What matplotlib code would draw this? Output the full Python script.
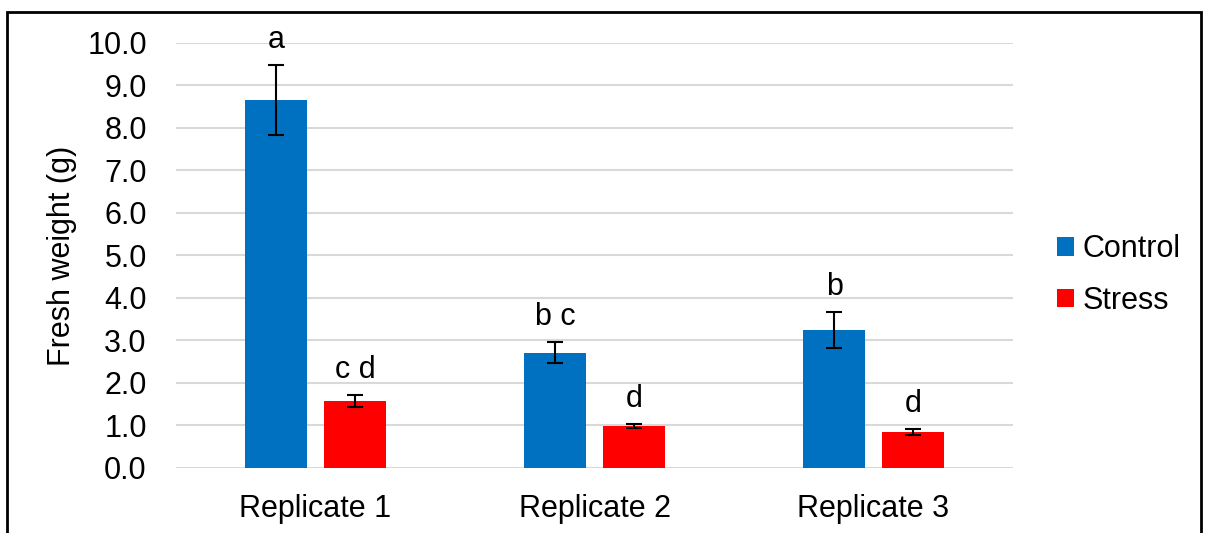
import numpy as np
import matplotlib
matplotlib.use("Agg")
import matplotlib.pyplot as plt
from matplotlib.patches import Rectangle

plt.rcParams['font.family'] = ['Liberation Sans', 'DejaVu Sans']

# data
categories = ["Replicate 1", "Replicate 2", "Replicate 3"]
control = [8.66, 2.71, 3.25]
control_err = [0.82, 0.25, 0.43]
stress = [1.58, 0.99, 0.85]
stress_err = [0.14, 0.05, 0.07]
control_letters = ["a", "b c", "b"]
stress_letters = ["c d", "d", "d"]
yticks = np.arange(0, 10.01, 1.0)

FS = 22

fig = plt.figure(figsize=(12.08, 5.33), dpi=100)
ax = fig.add_axes([0.1457, 0.122, 0.6929, 0.7974])

x = np.arange(len(categories))
w = 0.222
off = 0.141
blue = "#0070c0"
red = "#ff0000"

ax.bar(x - off, control, w, color=blue, label="Control", zorder=2)
ax.bar(x + off, stress, w, color=red, label="Stress", zorder=2)
ax.errorbar(x - off, control, yerr=control_err, fmt="none", ecolor="black",
            elinewidth=1.5, capsize=6, capthick=1.5, zorder=3)
ax.errorbar(x + off, stress, yerr=stress_err, fmt="none", ecolor="black",
            elinewidth=1.5, capsize=6, capthick=1.5, zorder=3)

# significance letters
for xi, v, e, t in zip(x - off, control, control_err, control_letters):
    ax.annotate(t, (xi, v + e), xytext=(0, 18), textcoords="offset points",
                ha="center", va="center", fontsize=FS)
for xi, v, e, t in zip(x + off, stress, stress_err, stress_letters):
    ax.annotate(t, (xi, v + e), xytext=(0, 18), textcoords="offset points",
                ha="center", va="center", fontsize=FS)

ax.set_xlim(-0.5, 2.5)
ax.set_ylim(0, 10)
ax.set_yticks(yticks)
ax.set_yticklabels([f"{t:.1f}" for t in yticks])
ax.set_xticks(x)
ax.set_xticklabels(categories)
ax.tick_params(axis="both", length=0, labelsize=FS)
ax.tick_params(axis="y", pad=21)
ax.tick_params(axis="x", pad=19)
ax.set_ylabel("Fresh weight (g)", fontsize=FS, labelpad=7)
ax.grid(axis="y", color="#d9d9d9", linewidth=1.5, zorder=0)
ax.set_axisbelow(True)
for s in ax.spines.values():
    s.set_visible(False)

ax.legend(loc="center left", bbox_to_anchor=(1.02, 0.454), frameon=False,
          fontsize=FS, handlelength=0.55, handleheight=0.55, handletextpad=0.27,
          labelspacing=0.7)

# outer border (bottom edge cut off)
fig.patches.append(Rectangle((7 / 1208, -0.1), 1194 / 1208, 1.1 - 12 / 533,
                             transform=fig.transFigure, fill=False,
                             edgecolor="black", linewidth=2, clip_on=False))

fig.savefig("out.png", dpi=100)
